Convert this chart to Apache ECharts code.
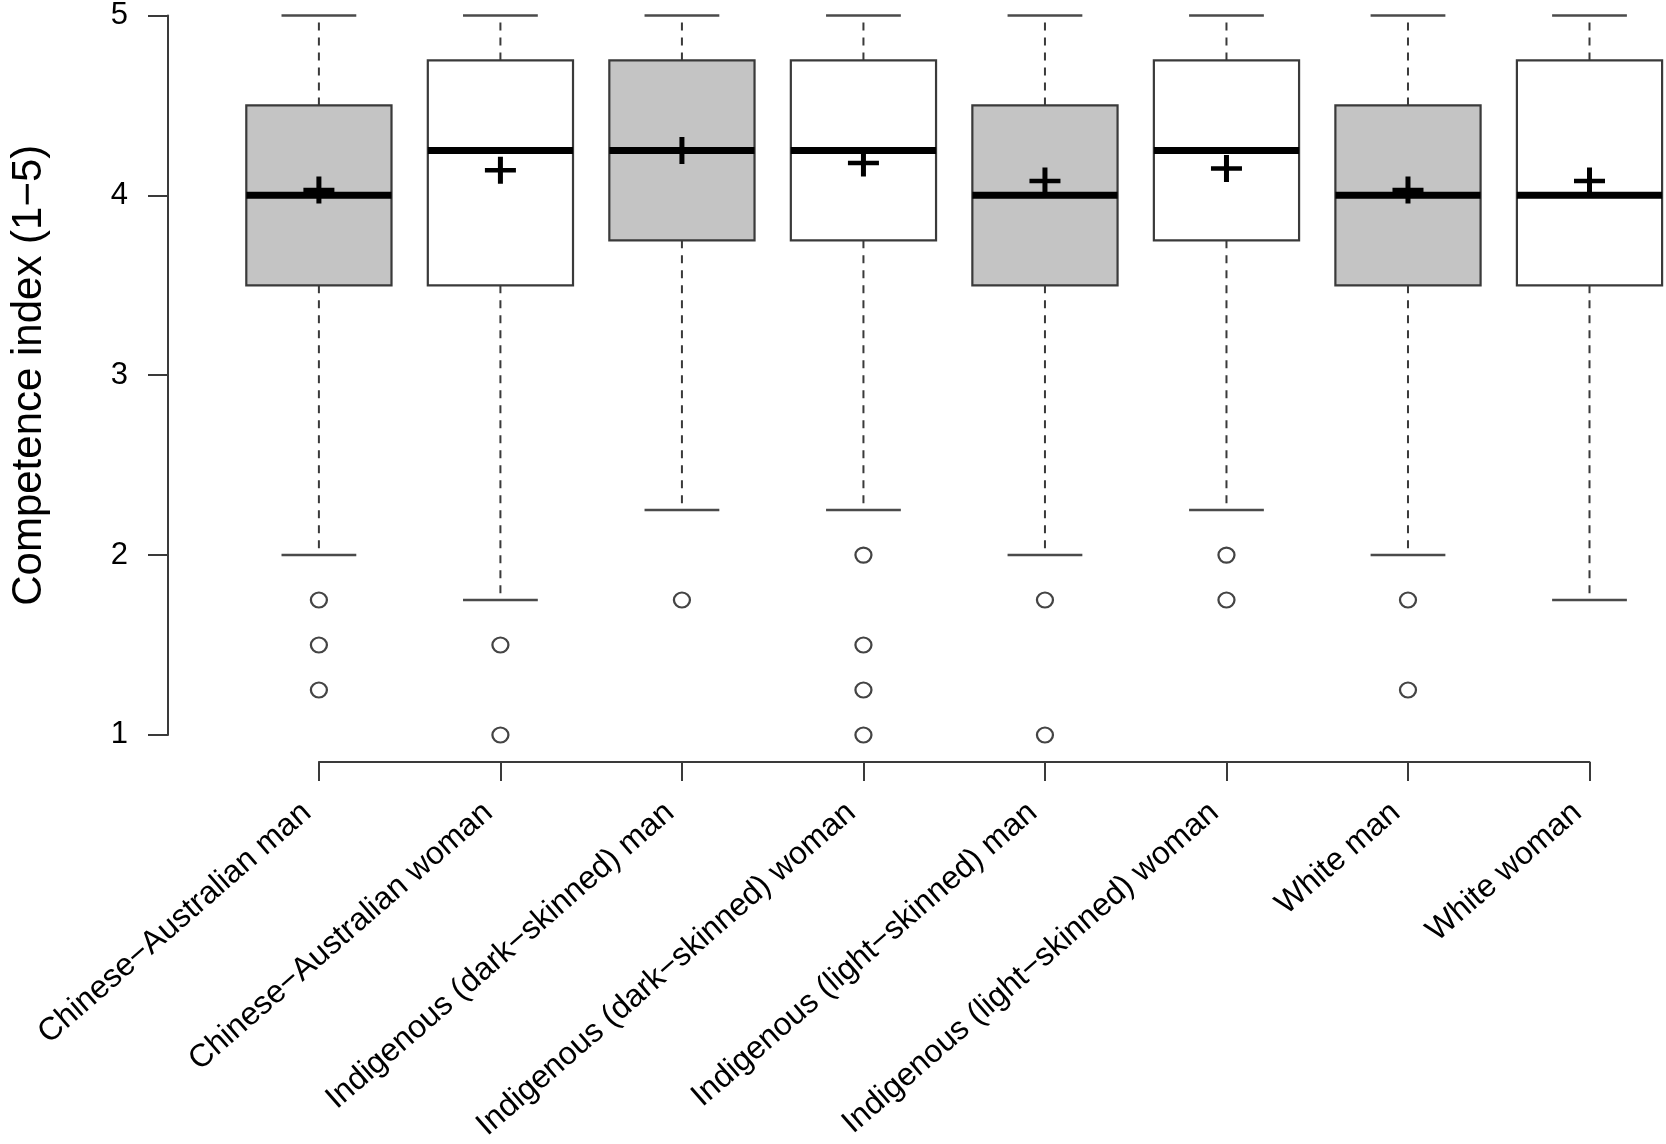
<!DOCTYPE html>
<html>
<head>
<meta charset="utf-8">
<script src="https://cdn.jsdelivr.net/npm/echarts@6/dist/echarts.min.js"></script>
<style>
html,body{margin:0;padding:0;background:#fff;}
#chart{width:1666px;height:1144px;}
</style>
</head>
<body>
<div id="chart"></div>
<script>
// ---- data ----
const categories = [
  'Chinese\u2212Australian man',
  'Chinese\u2212Australian woman',
  'Indigenous (dark\u2212skinned) man',
  'Indigenous (dark\u2212skinned) woman',
  'Indigenous (light\u2212skinned) man',
  'Indigenous (light\u2212skinned) woman',
  'White man',
  'White woman'
];
const whiskerLow  = [2.00, 1.75, 2.25, 2.25, 2.00, 2.25, 2.00, 1.75];
const quartile1   = [3.50, 3.50, 3.75, 3.75, 3.50, 3.75, 3.50, 3.50];
const medians     = [4.00, 4.25, 4.25, 4.25, 4.00, 4.25, 4.00, 4.00];
const quartile3   = [4.50, 4.75, 4.75, 4.75, 4.50, 4.75, 4.50, 4.75];
const whiskerHigh = [5.00, 5.00, 5.00, 5.00, 5.00, 5.00, 5.00, 5.00];
const means       = [4.03, 4.14, 4.25, 4.18, 4.08, 4.15, 4.03, 4.08];
const outliers = [
  [0, 1.75], [0, 1.50], [0, 1.25],
  [1, 1.50], [1, 1.00],
  [2, 1.75],
  [3, 2.00], [3, 1.50], [3, 1.25], [3, 1.00],
  [4, 1.75], [4, 1.00],
  [5, 2.00], [5, 1.75],
  [6, 1.75], [6, 1.25]
];
const yTicks = [1, 2, 3, 4, 5];
const yTitle = 'Competence index (1\u22125)';

// ---- styles ----
const FONT = "'Liberation Sans', Arial, Helvetica, sans-serif";
const GRAY = '#c4c4c4';
const WHITE = '#ffffff';
const LINE = '#3a3a3a';
const fillFor = i => /\sman$/.test(categories[i]) ? GRAY : WHITE;

const boxData = categories.map((c, i) => [i, whiskerLow[i], quartile1[i], medians[i], quartile3[i], whiskerHigh[i]]);
const meanData = means.map((m, i) => [i, m]);

const plusPath = 'path://M0,11.25L31,11.25L31,15.75L0,15.75Z M13,0L18,0L18,27L13,27Z';

const chart = echarts.init(document.getElementById('chart'), null, {renderer: 'canvas'});
chart.setOption({
  animation: false,
  backgroundColor: '#fff',
  grid: {left: 315.6, right: 76.5, top: 12.75, bottom: 400.2, containLabel: false},
  xAxis: {
    type: 'category',
    data: categories,
    boundaryGap: false,
    offset: 27,
    axisLine: {show: true, lineStyle: {color: LINE, width: 2}},
    axisTick: {show: true, length: 19, interval: 0, lineStyle: {color: LINE, width: 2}},
    axisLabel: {interval: 0, rotate: 41, fontSize: 32, fontFamily: FONT, color: '#000',
                margin: 36, padding: [0, 16, 0, 0], hideOverlap: false},
    splitLine: {show: false}
  },
  yAxis: {
    type: 'value',
    min: yTicks[0],
    max: yTicks[yTicks.length - 1],
    interval: 1,
    offset: 150.9,
    name: yTitle,
    nameLocation: 'middle',
    nameRotate: 90,
    nameGap: 118,
    nameTextStyle: {fontSize: 42, fontFamily: FONT, color: '#000'},
    axisLine: {show: true, lineStyle: {color: LINE, width: 2}},
    axisTick: {show: true, length: 20, lineStyle: {color: LINE, width: 2}},
    axisLabel: {fontSize: 31, fontFamily: FONT, color: '#000', margin: 40},
    splitLine: {show: false}
  },
  series: [
    {
      type: 'custom',
      name: 'box',
      data: boxData,
      encode: {x: 0, y: [1, 2, 3, 4, 5]},
      z: 2,
      renderItem: function (params, api) {
        const idx = api.value(0);
        const pLow = api.coord([idx, api.value(1)]);
        const pQ1 = api.coord([idx, api.value(2)]);
        const pMed = api.coord([idx, api.value(3)]);
        const pQ3 = api.coord([idx, api.value(4)]);
        const pHigh = api.coord([idx, api.value(5)]);
        const band = api.size([1, 0])[0];
        const boxW = band * 0.8;
        const stapleW = boxW * 0.515;
        const cx = pMed[0];
        const dashStyle = {stroke: LINE, lineWidth: 2, lineDash: [8, 7]};
        const solid = {stroke: '#4a4a4a', lineWidth: 2.5};
        return {
          type: 'group',
          children: [
            {type: 'line', shape: {x1: cx, y1: pQ3[1], x2: cx, y2: pHigh[1]}, style: dashStyle},
            {type: 'line', shape: {x1: cx, y1: pQ1[1], x2: cx, y2: pLow[1]}, style: dashStyle},
            {type: 'line', shape: {x1: cx - stapleW / 2, y1: pHigh[1], x2: cx + stapleW / 2, y2: pHigh[1]}, style: solid},
            {type: 'line', shape: {x1: cx - stapleW / 2, y1: pLow[1], x2: cx + stapleW / 2, y2: pLow[1]}, style: solid},
            {type: 'rect', shape: {x: cx - boxW / 2, y: pQ3[1], width: boxW, height: pQ1[1] - pQ3[1]},
             style: {fill: fillFor(idx), stroke: LINE, lineWidth: 2.2}},
            {type: 'line', shape: {x1: cx - boxW / 2, y1: pMed[1], x2: cx + boxW / 2, y2: pMed[1]},
             style: {stroke: '#000', lineWidth: 7}}
          ]
        };
      }
    },
    {
      type: 'scatter',
      name: 'outliers',
      data: outliers,
      symbol: 'circle',
      symbolSize: [16, 15],
      z: 3,
      itemStyle: {color: '#fff', borderColor: '#444', borderWidth: 2.2, opacity: 1}
    },
    {
      type: 'scatter',
      name: 'mean',
      data: meanData,
      symbol: plusPath,
      symbolSize: [31, 27],
      z: 4,
      itemStyle: {color: '#000', opacity: 1}
    }
  ]
});
</script>
</body>
</html>
